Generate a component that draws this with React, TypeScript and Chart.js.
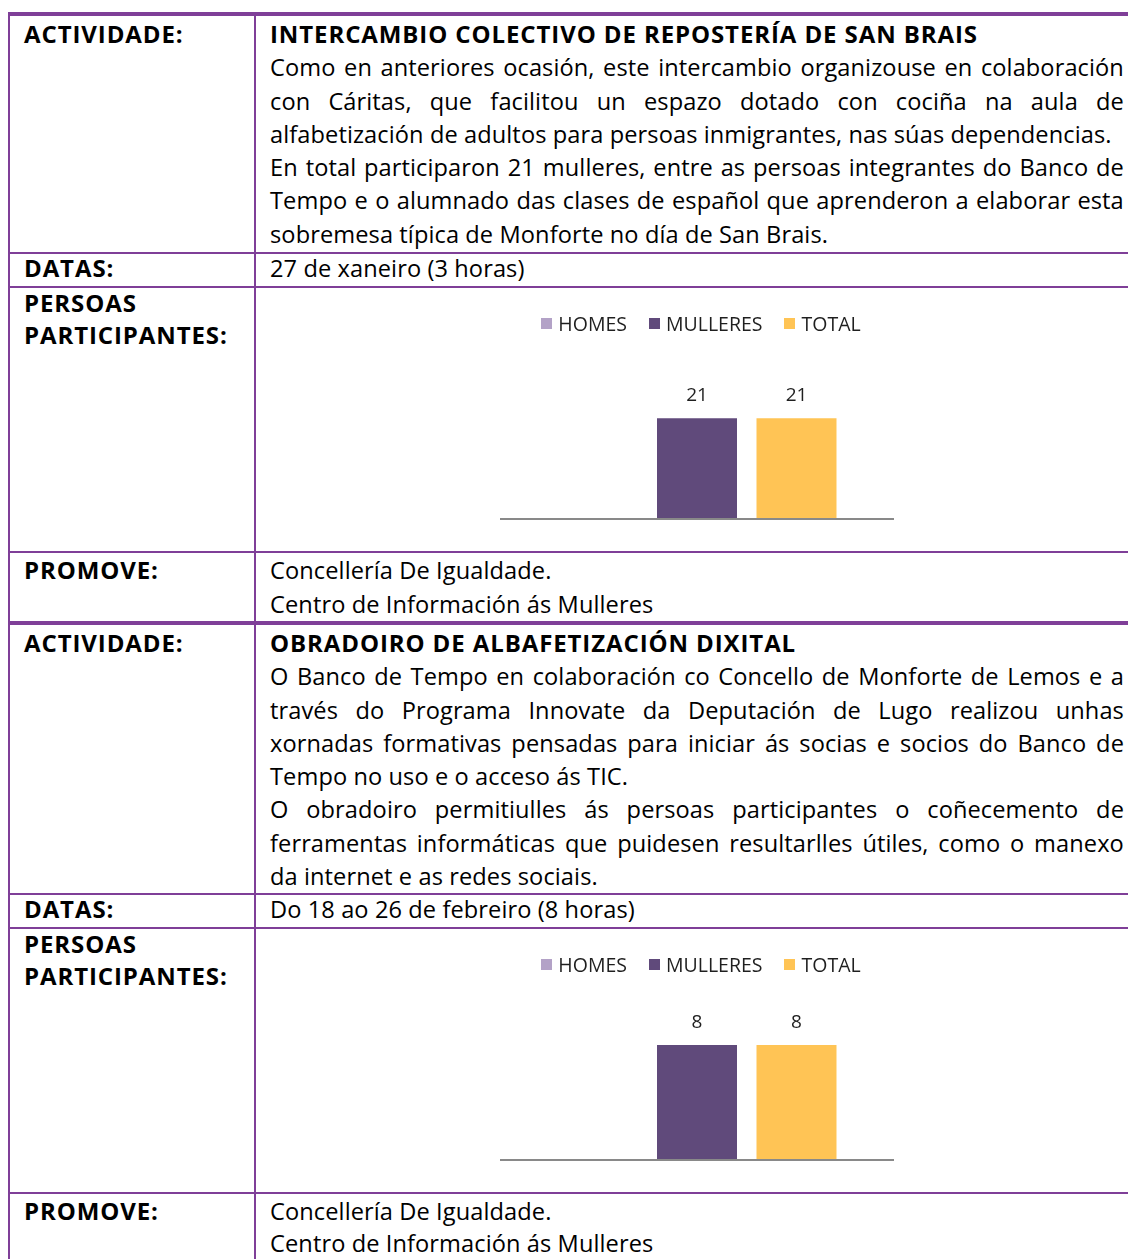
import React, { useEffect, useRef } from "react";
import { Chart, registerables } from "chart.js";

Chart.register(...registerables);

// ---------- data ----------
const seriesLabels = ["HOMES", "MULLERES", "TOTAL"];
const seriesColors = ["#B3A2C7", "#604A7B", "#FFC455"];
const categories = [""];
const chart1Values: (number | null)[] = [null, 21, 21];
const chart2Values: (number | null)[] = [null, 8, 8];
const chart1Max = 27;
const chart2Max = 9;

const block1Title = "INTERCAMBIO COLECTIVO DE REPOSTERÍA DE SAN BRAIS";
const block1Lines: [string, boolean][] = [
  ["Como en anteriores ocasión, este intercambio organizouse en colaboración", true],
  ["con Cáritas, que facilitou un espazo dotado con cociña na aula de", true],
  ["alfabetización de adultos para persoas inmigrantes, nas súas dependencias.", false],
  ["En total participaron 21 mulleres, entre as persoas integrantes do Banco de", true],
  ["Tempo e o alumnado das clases de español que aprenderon a elaborar esta", true],
  ["sobremesa típica de Monforte no día de San Brais.", false],
];
const block1Date = "27 de xaneiro (3 horas)";

const block2Title = "OBRADOIRO DE ALBAFETIZACIÓN DIXITAL";
const block2Lines: [string, boolean][] = [
  ["O Banco de Tempo en colaboración co Concello de Monforte de Lemos e a", true],
  ["través do Programa Innovate da Deputación de Lugo realizou unhas", true],
  ["xornadas formativas pensadas para iniciar ás socias e socios do Banco de", true],
  ["Tempo no uso e o acceso ás TIC.", false],
  ["O obradoiro permitiulles ás persoas participantes o coñecemento de", true],
  ["ferramentas informáticas que puidesen resultarlles útiles, como o manexo", true],
  ["da internet e as redes sociais.", false],
];
const block2Date = "Do 18 ao 26 de febreiro (8 horas)";

const promoveLines = ["Concellería De Igualdade.", "Centro de Información ás Mulleres"];

// ---------- styling ----------
const FONT = "'Open Sans', 'Noto Sans', sans-serif";
const PURPLE = "#7F3F98";
const REG = 23.6;
const BOLD = 24;
const LH = 34;
const STEP = 33.33;

type LineProps = { text: string; baseline: number; bold?: boolean; justify?: boolean; x?: number };

function TextLine({ text, baseline, bold, justify, x = 270 }: LineProps) {
  const size = bold ? BOLD : REG;
  const top = baseline - (LH / 2 + 0.3879 * size);
  const style: React.CSSProperties = {
    position: "absolute",
    left: x,
    top,
    height: LH,
    lineHeight: LH + "px",
    fontSize: size,
    fontWeight: bold ? 700 : 400,
    letterSpacing: bold ? 0.9 : 0.1,
    fontFamily: FONT,
    color: "#000",
    whiteSpace: "nowrap",
  };
  if (justify) {
    return (
      <div style={{ ...style, width: 1124 - x, display: "flex", justifyContent: "space-between" }}>
        {text.split(" ").map((w, i) => (
          <span key={i}>{w}</span>
        ))}
      </div>
    );
  }
  return <div style={style}>{text}</div>;
}

function HLine({ y, h = 2 }: { y: number; h?: number }) {
  return <div style={{ position: "absolute", left: 8, top: y, width: 1120, height: h, background: PURPLE }} />;
}
function VLine({ x }: { x: number }) {
  return <div style={{ position: "absolute", left: x, top: 12, width: 2, height: 1247, background: PURPLE }} />;
}

// ---------- chart plugins ----------
const LEGEND_BASE = 35;
const legendPlugin = {
  id: "docLegend",
  afterDraw(chart: any) {
    const ctx = chart.ctx as CanvasRenderingContext2D;
    ctx.save();
    ctx.font = `19.5px ${FONT}`;
    ctx.textBaseline = "alphabetic";
    const items = chart.data.datasets.map((ds: any) => ({
      label: ds.label as string,
      color: ds.backgroundColor as string,
      w: ctx.measureText(ds.label).width,
    }));
    const box = 11, gap = 6, sep = 22;
    const total = items.reduce((s: number, it: any) => s + box + gap + it.w, 0) + sep * (items.length - 1);
    let x = chart.width / 2 + 4 - total / 2;
    items.forEach((it: any) => {
      ctx.fillStyle = it.color;
      ctx.fillRect(Math.round(x), LEGEND_BASE - 13, box, box);
      x += box + gap;
      ctx.fillStyle = "#1f1f1f";
      ctx.fillText(it.label, x, LEGEND_BASE);
      x += it.w + sep;
    });
    ctx.restore();
  },
};

const valueLabelPlugin = {
  id: "valueLabels",
  afterDatasetsDraw(chart: any) {
    const ctx = chart.ctx as CanvasRenderingContext2D;
    ctx.save();
    ctx.font = `19px ${FONT}`;
    ctx.fillStyle = "#1f1f1f";
    ctx.textAlign = "center";
    ctx.textBaseline = "alphabetic";
    chart.data.datasets.forEach((ds: any, di: number) => {
      const meta = chart.getDatasetMeta(di);
      meta.data.forEach((bar: any, i: number) => {
        const v = ds.data[i];
        if (v === null || v === undefined) return;
        ctx.fillText(String(v), bar.x, bar.y - 17);
      });
    });
    ctx.restore();
  },
};

const baselinePlugin = {
  id: "baseline",
  afterDatasetsDraw(chart: any) {
    const ctx = chart.ctx as CanvasRenderingContext2D;
    const y = chart.scales.y.getPixelForValue(0);
    ctx.save();
    ctx.strokeStyle = "#898989";
    ctx.lineWidth = 2;
    ctx.beginPath();
    ctx.moveTo(chart.chartArea.left, y);
    ctx.lineTo(chart.chartArea.right, y);
    ctx.stroke();
    ctx.restore();
  },
};

function BarChart({ values, max, top }: { values: (number | null)[]; max: number; top: number }) {
  const ref = useRef<HTMLCanvasElement>(null);
  useEffect(() => {
    if (!ref.current) return;
    const chart = new Chart(ref.current, {
      type: "bar",
      data: {
        labels: categories,
        datasets: seriesLabels.map((label, i) => ({
          label,
          data: [values[i]],
          backgroundColor: seriesColors[i],
          borderWidth: 0,
          categoryPercentage: 0.7576,
          barPercentage: 0.804,
        })),
      },
      options: {
        animation: false,
        responsive: false,
        maintainAspectRatio: false,
        devicePixelRatio: 1,
        layout: { padding: { left: 30, right: 30, top: 93.6, bottom: 31 } },
        plugins: { legend: { display: false }, tooltip: { enabled: false }, title: { display: false } },
        scales: {
          x: { display: false },
          y: { display: false, min: 0, max },
        },
      } as any,
      plugins: [legendPlugin, valueLabelPlugin, baselinePlugin],
    });
    return () => chart.destroy();
  }, [values, max]);
  return (
    <canvas
      ref={ref}
      width={454}
      height={254}
      style={{ position: "absolute", left: 470, top, width: 454, height: 254 }}
    />
  );
}

export default function App() {
  useEffect(() => {
    document.documentElement.style.overflow = "hidden";
    document.body.style.overflow = "hidden";
  }, []);

  const b1 = 43;
  const b2 = 652;
  return (
    <div
      style={{
        position: "absolute",
        left: 0,
        top: 0,
        width: 1128,
        height: 1259,
        overflow: "hidden",
        background: "#fff",
        fontFamily: FONT,
      }}
    >
      {/* borders */}
      <HLine y={12} h={4} />
      <VLine x={8} />
      <VLine x={254} />
      <HLine y={252} />
      <HLine y={286} />
      <HLine y={551} />
      <HLine y={621} h={4} />
      <HLine y={893} />
      <HLine y={927} />
      <HLine y={1192} />

      {/* block 1 */}
      <TextLine text="ACTIVIDADE:" baseline={b1} bold x={24} />
      <TextLine text={block1Title} baseline={b1} bold />
      {block1Lines.map(([t, j], i) => (
        <TextLine key={"a" + i} text={t} baseline={b1 + STEP * (i + 1)} justify={j} />
      ))}
      <TextLine text="DATAS:" baseline={277} bold x={24} />
      <TextLine text={block1Date} baseline={277} />
      <TextLine text="PERSOAS" baseline={312} bold x={24} />
      <TextLine text="PARTICIPANTES:" baseline={344} bold x={24} />
      <TextLine text="PROMOVE:" baseline={579.5} bold x={24} />
      <TextLine text={promoveLines[0]} baseline={579.5} />
      <TextLine text={promoveLines[1]} baseline={612.8} />
      <BarChart values={chart1Values} max={chart1Max} top={296} />

      {/* block 2 */}
      <TextLine text="ACTIVIDADE:" baseline={b2} bold x={24} />
      <TextLine text={block2Title} baseline={b2} bold />
      {block2Lines.map(([t, j], i) => (
        <TextLine key={"b" + i} text={t} baseline={b2 + STEP * (i + 1)} justify={j} />
      ))}
      <TextLine text="DATAS:" baseline={918} bold x={24} />
      <TextLine text={block2Date} baseline={918} />
      <TextLine text="PERSOAS" baseline={953} bold x={24} />
      <TextLine text="PARTICIPANTES:" baseline={985} bold x={24} />
      <TextLine text="PROMOVE:" baseline={1220} bold x={24} />
      <TextLine text={promoveLines[0]} baseline={1220} />
      <TextLine text={promoveLines[1]} baseline={1252} />
      <BarChart values={chart2Values} max={chart2Max} top={937} />
    </div>
  );
}
